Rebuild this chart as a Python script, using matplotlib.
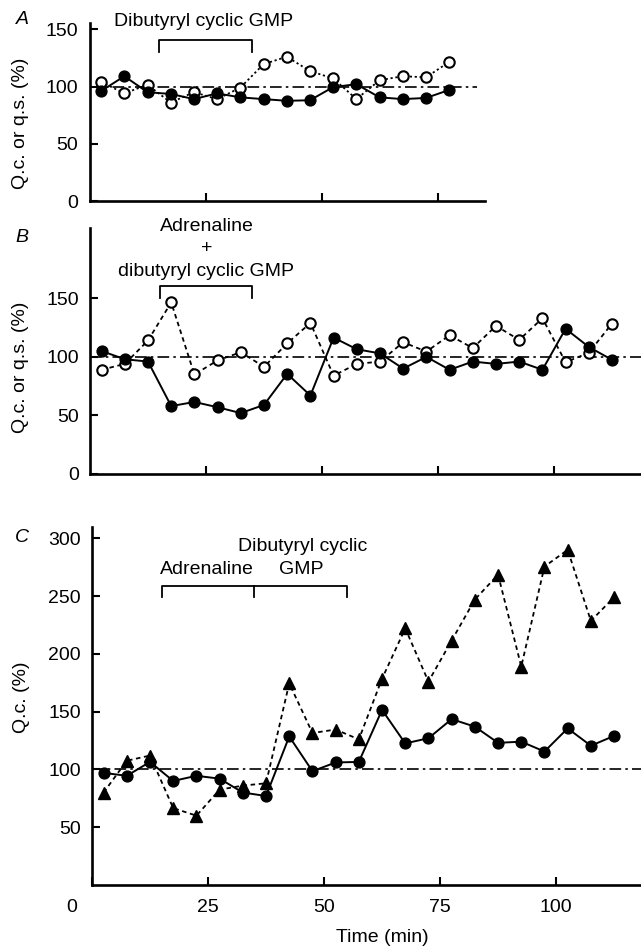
import matplotlib
matplotlib.use("Agg")
import matplotlib.pyplot as plt
import matplotlib.transforms as mtransforms

plt.rcParams['font.family'] = ['Liberation Sans', 'DejaVu Sans']
plt.rcParams['font.size'] = 14

W, H = 641, 948

# sampling times (min)
time_a = [2.5, 7.5, 12.5, 17.5, 22.5, 27.5, 32.5, 37.5, 42.5, 47.5,
          52.5, 57.5, 62.5, 67.5, 72.5, 77.5]
time_bc = [2.5, 7.5, 12.5, 17.5, 22.5, 27.5, 32.5, 37.5, 42.5, 47.5,
           52.5, 57.5, 62.5, 67.5, 72.5, 77.5, 82.5, 87.5, 92.5, 97.5,
           102.5, 107.5, 112.5]

# panel A: dibutyryl cyclic GMP
a_qc = [96, 109, 95, 93.5, 89, 94, 90.5, 89, 87.5, 88, 99.5, 102, 90.5, 89, 90, 97]
a_qs = [104, 94, 101.5, 86, 95, 89, 99, 119.5, 126, 113.5, 107, 89, 105.5, 109, 108, 121.5]

# panel B: adrenaline + dibutyryl cyclic GMP
b_qc = [105, 98, 96, 58, 61.5, 57, 52, 59, 85.5, 67, 116.5, 106.5, 103, 90,
        100, 89, 96, 94, 96, 89, 124, 108.5, 97.5]
b_qs = [89, 94, 114, 146.5, 85, 97, 104, 91.5, 111.5, 129, 84, 94, 96, 112.5,
        104.5, 118.5, 107.5, 126.5, 114.5, 133, 95.5, 103.5, 128.5]

# panel C: adrenaline then dibutyryl cyclic GMP
c_circ = [97, 94.5, 106.5, 90, 94.5, 92, 80, 77, 128.5, 98.5, 106, 106.5, 151.5,
          122.5, 127, 143.5, 137, 123, 124, 115.5, 135.5, 120.5, 129]
c_tri = [80, 107.5, 112, 66.5, 60, 82.5, 86, 88, 174.5, 131.5, 134.5, 126, 178.5,
         222, 176, 211.5, 247, 268.5, 189, 275.5, 290, 228.5, 249]

# drug application periods (min)
a_period = [15, 35]
b_period = [15, 35]
c_periods = [15, 35, 55]


def px_axes(fig, left, top, right, bottom):
    return fig.add_axes([left / W, 1 - bottom / H, (right - left) / W, (bottom - top) / H])


def style(ax):
    for s in ("top", "right"):
        ax.spines[s].set_visible(False)
    for s in ("left", "bottom"):
        ax.spines[s].set_linewidth(1.9)
    ax.tick_params(direction="in", length=6, width=1.5, pad=8)


def bracket(ax, xs, y_top, y_end):
    ax.plot([xs[0], xs[0], xs[-1], xs[-1]], [y_end, y_top, y_top, y_end],
            color="black", lw=1.3, clip_on=False)
    for x in xs[1:-1]:
        ax.plot([x, x], [y_top, y_end], color="black", lw=1.3, clip_on=False)


def ref_line(ax, x_end):
    ax.plot([0, x_end], [100, 100], color="black", lw=1.2,
            dashes=(7, 2.5, 1.5, 2.5), zorder=1)


filled = dict(color="black", marker="o", ms=7.8, lw=1.4, mfc="black", mec="black", zorder=3)
opened = dict(color="black", marker="o", ms=7.5, lw=1.3, mfc="white", mec="black", mew=1.5, zorder=3)

fig = plt.figure(figsize=(W / 100, H / 100), dpi=100)

# ---- A ----
ax = px_axes(fig, 89.5, 23.3, 485, 201)
style(ax)
ax.set_xlim(0, 85.2)
ax.set_ylim(0, 155.2)
ref_line(ax, 83.5)
ax.plot(time_a, a_qs, ls=(0, (1.2, 1.5)), **opened)
ax.plot(time_a, a_qc, ls="-", **filled)
ax.set_yticks([0, 50, 100, 150])
ax.set_xticks([25, 50, 75])
ax.set_xticklabels([])
bracket(ax, a_period, 141, 130.5)
ax.text(24.5, 156.6, "Dibutyryl cyclic GMP", ha="center", va="center")

# ---- B ----
ax = px_axes(fig, 90, 228.3, 641, 474)
style(ax)
ax.set_xlim(0, 118.75)
ax.set_ylim(0, 209.8)
ref_line(ax, 118.75)
ax.plot(time_bc, b_qs, ls=(0, (2.5, 2)), **opened)
ax.plot(time_bc, b_qc, ls="-", **filled)
ax.set_yticks([0, 50, 100, 150])
ax.set_xticks([25, 50, 75, 100])
ax.set_xticklabels([])
bracket(ax, b_period, 160.5, 150)
ax.text(25.1, 211, "Adrenaline", ha="center", va="center")
ax.text(25.1, 192.7, "+", ha="center", va="center")
ax.text(25.1, 172.7, "dibutyryl cyclic GMP", ha="center", va="center")

# ---- C ----
ax = px_axes(fig, 92, 526.7, 641, 885)
style(ax)
ax.set_xlim(0, 118.3)
ax.set_ylim(0, 310)
ref_line(ax, 118.3)
ax.plot(time_bc, c_tri, ls=(0, (2.5, 2)), color="black", marker="^", ms=8.5,
        lw=1.3, mfc="black", mec="black", zorder=3)
ax.plot(time_bc, c_circ, ls="-", **filled)
ax.set_yticks([50, 100, 150, 200, 250, 300])
ax.set_xticks([0, 25, 50, 75, 100])
ax.set_xticklabels(["0", "25", "50", "75", "100"])
ax.tick_params(axis="x", pad=10)
shift = mtransforms.ScaledTranslation(-20 / 100, 0, fig.dpi_scale_trans)
lab0 = ax.get_xticklabels()[0]
lab0.set_transform(lab0.get_transform() + shift)
bracket(ax, c_periods, 258.7, 249.5)
ax.text(24.7, 272.6, "Adrenaline", ha="center", va="center")
ax.text(45.3, 293.3, "Dibutyryl cyclic", ha="center", va="center")
ax.text(45.1, 272.6, "GMP", ha="center", va="center")

# panel letters and axis titles
for letter, yy in (("A", 20), ("B", 237), ("C", 537)):
    fig.text(22 / W, 1 - yy / H, letter, ha="center", va="center", style="italic")
fig.text(21 / W, 1 - 123 / H, "Q.c. or q.s. (%)", rotation=90, ha="center", va="center")
fig.text(21 / W, 1 - 367 / H, "Q.c. or q.s. (%)", rotation=90, ha="center", va="center")
fig.text(21 / W, 1 - 697 / H, "Q.c. (%)", rotation=90, ha="center", va="center")
fig.text(382 / W, 1 - 937 / H, "Time (min)", ha="center", va="center")

fig.savefig("out.png", dpi=100)
